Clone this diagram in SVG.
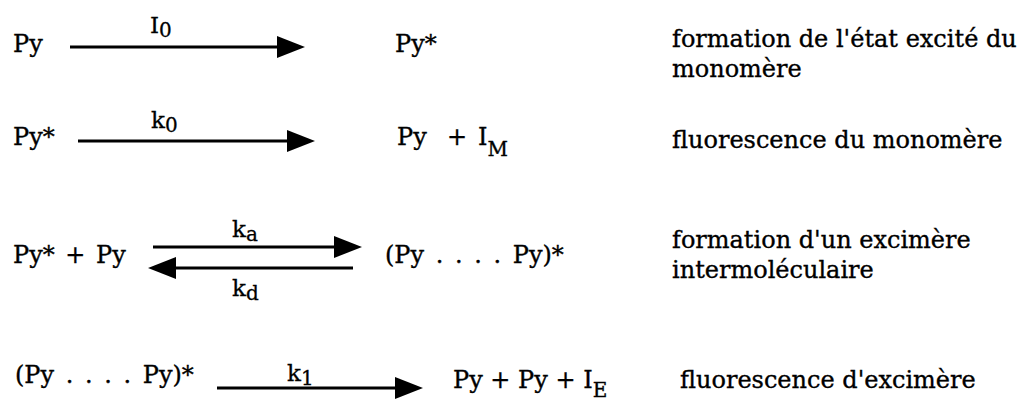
<svg xmlns="http://www.w3.org/2000/svg" width="1031" height="405" viewBox="0 0 1031 405">
<style>
  .t { font-family: "DejaVu Serif", "Liberation Serif", serif; font-size: 24px; fill: #000; stroke: #000; stroke-width: 0.35; }
  .lbl { font-family: "DejaVu Serif", "Liberation Serif", serif; font-size: 23px; fill: #000; stroke: #000; stroke-width: 0.3; }
  .sub { font-size: 20px; }
  .arr { stroke: #000; stroke-width: 3; fill: none; marker-end: url(#ah); }
  .dots { word-spacing: 4px; }
</style>
<defs>
  <marker id="ah" markerUnits="userSpaceOnUse" markerWidth="28" markerHeight="22" refX="18" refY="11" orient="auto">
    <path d="M0,0 L28,11 L0,22 Z" fill="#000"/>
  </marker>
</defs>
<rect width="1031" height="405" fill="#fff"/>

<g id="connectors">
  <line class="arr" x1="70" y1="47" x2="295" y2="47"/>
  <line class="arr" x1="78" y1="141" x2="305" y2="141"/>
  <line class="arr" x1="153" y1="247" x2="352" y2="247"/>
  <line class="arr" x1="353" y1="268" x2="158" y2="268"/>
  <line class="arr" x1="217" y1="388" x2="413" y2="388"/>
</g>

<g id="labels">
  <text class="lbl" x="150" y="33">I<tspan class="sub" dy="4">0</tspan></text>
  <text class="lbl" x="151" y="128">k<tspan class="sub" dy="4">0</tspan></text>
  <text class="lbl" x="232" y="237">k<tspan class="sub" dy="4">a</tspan></text>
  <text class="lbl" x="232" y="296">k<tspan class="sub" dy="4">d</tspan></text>
  <text class="lbl" x="287" y="381">k<tspan class="sub" dy="4">1</tspan></text>
</g>

<g id="r1-reactant"><text class="t" x="13" y="52">Py</text></g>
<g id="r1-product"><text class="t" x="395" y="52">Py*</text></g>
<g id="r1-desc">
  <text class="t" x="672" y="47">formation de l'état excité du</text>
  <text class="t" x="672" y="77">monomère</text>
</g>

<g id="r2-reactant"><text class="t" x="13" y="145">Py*</text></g>
<g id="r2-product">
  <text class="t" x="397" y="145">Py</text>
  <text class="t" x="447" y="145">+</text>
  <text class="t" x="478" y="145">I<tspan class="sub" dy="11">M</tspan></text>
</g>
<g id="r2-desc"><text class="t" x="672" y="148">fluorescence du monomère</text></g>

<g id="r3-reactant"><text class="t" x="13" y="263" style="word-spacing:3px">Py* + Py</text></g>
<g id="r3-product"><text class="t dots" x="385" y="263">(Py . . . . Py)*</text></g>
<g id="r3-desc">
  <text class="t" x="672" y="248">formation d'un excimère</text>
  <text class="t" x="672" y="278">intermoléculaire</text>
</g>

<g id="r4-reactant"><text class="t dots" x="15" y="383">(Py . . . . Py)*</text></g>
<g id="r4-product"><text class="t" x="453" y="388">Py + Py + I<tspan class="sub" dy="9">E</tspan></text></g>
<g id="r4-desc"><text class="t" x="680" y="388">fluorescence d'excimère</text></g>
</svg>
